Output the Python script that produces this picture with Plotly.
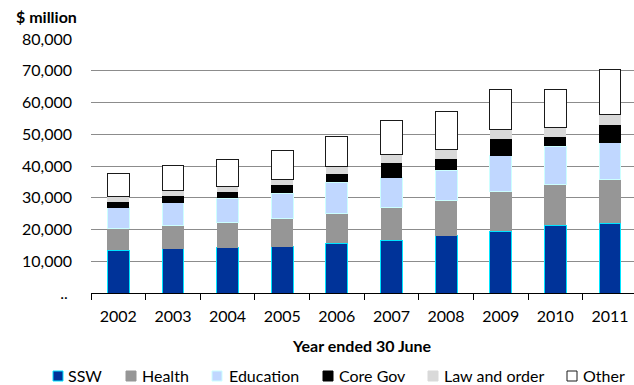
import plotly.graph_objects as go

# Expenditure by function, $ million, years ended 30 June
years = ["2002", "2003", "2004", "2005", "2006", "2007", "2008", "2009", "2010", "2011"]
ssw = [13500, 13900, 14200, 14600, 15600, 16600, 18000, 19400, 21300, 22000]
health = [6900, 7500, 8000, 8900, 9500, 10300, 11100, 12500, 13000, 13900]
education = [6500, 7000, 7600, 7900, 9800, 9400, 9500, 11300, 11900, 11500]
core_gov = [1800, 2000, 2000, 2500, 2500, 4700, 3600, 5400, 2800, 5400]
law_order = [1600, 1800, 1800, 2000, 2400, 2700, 2900, 2800, 3200, 3300]
other = [7200, 7900, 8400, 8900, 9600, 10500, 12000, 12700, 11900, 14400]

y_ticks = [0, 10000, 20000, 30000, 40000, 50000, 60000, 70000, 80000]
y_labels = ["..\u00a0", "10,000", "20,000", "30,000", "40,000", "50,000",
            "60,000", "70,000", "80,000"]

FONT = "Lato, Carlito, Calibri, sans-serif"

# name, values, fill, outline colour, outline width
series = [
    ("SSW", ssw, "#003399", "#00E5FF", 1),
    ("Health", health, "#969696", "#969696", 0),
    ("Education", education, "#C0D7FF", "#CCFFFF", 1),
    ("Core Gov", core_gov, "#000000", "#000000", 0),
    ("Law and order", law_order, "#D9D9D9", "#D9D9D9", 0),
    ("Other", other, "#FFFFFF", "#1A1A1A", 1),
]

W, H = 634, 385
L, R, T, B = 91, 0, 39, 92
pw = W - L - R
ph = H - T - B


def px_x(x):
    return (x - L) / pw


def px_y(y):
    return (H - B - y) / ph


fig = go.Figure()
for name, vals, fill, line, lw in series:
    fig.add_bar(
        x=years, y=vals, name=name, width=0.4, showlegend=False,
        marker=dict(color=fill, line=dict(color=line, width=lw)),
    )

# Legend drawn as swatch + label pairs along the bottom
legend_items = [
    ("SSW", 53, 66),
    ("Health", 126, 140),
    ("Education", 212, 227),
    ("Core Gov", 323, 337),
    ("Law and order", 428, 442),
    ("Other", 567, 581),
]
shapes = []
annotations = []
style = {name: (fill, line, lw) for name, _, fill, line, lw in series}
for name, sq_left, txt_left in legend_items:
    fill, line, lw = style[name]
    shapes.append(dict(
        type="rect", xref="paper", yref="paper",
        x0=px_x(sq_left), x1=px_x(sq_left + 10),
        y0=px_y(381), y1=px_y(371),
        fillcolor=fill,
        line=dict(color=line if lw else fill, width=max(lw, 1)),
    ))
    annotations.append(dict(
        text=name, xref="paper", yref="paper", x=px_x(txt_left), y=px_y(376),
        xanchor="left", yanchor="middle", showarrow=False,
        font=dict(family=FONT, size=16, color="#000000"),
    ))

annotations.append(dict(
    text="<b>$ million</b>", xref="paper", yref="paper",
    x=px_x(14), y=px_y(17), xanchor="left", yanchor="middle", showarrow=False,
    font=dict(family=FONT, size=16, color="#000000"),
))
annotations.append(dict(
    text="<b>Year ended 30 June</b>", xref="paper", yref="paper",
    x=px_x(362), y=px_y(345), xanchor="center", yanchor="middle", showarrow=False,
    font=dict(family=FONT, size=16, color="#000000"),
))

fig.update_layout(
    width=W, height=H,
    margin=dict(l=L, r=R, t=T, b=B, pad=0),
    barmode="stack",
    plot_bgcolor="white", paper_bgcolor="white",
    font=dict(family=FONT, size=16, color="#000000"),
    shapes=shapes, annotations=annotations,
    xaxis=dict(
        type="category", range=[-0.5, 9.44],
        tickson="boundaries", ticks="outside", ticklen=6, tickcolor="#000000",
        showline=True, linecolor="#000000", linewidth=1,
        showgrid=False, ticklabelstandoff=9,
        tickfont=dict(family=FONT, size=16),
    ),
    yaxis=dict(
        range=[0, 80000], tickvals=y_ticks, ticktext=y_labels,
        showgrid=True, gridcolor="#8C8C8C", gridwidth=1,
        zeroline=False, showline=False, ticks="", ticklabelstandoff=18,
        tickfont=dict(family=FONT, size=16),
    ),
)

fig.write_html("out.html")
